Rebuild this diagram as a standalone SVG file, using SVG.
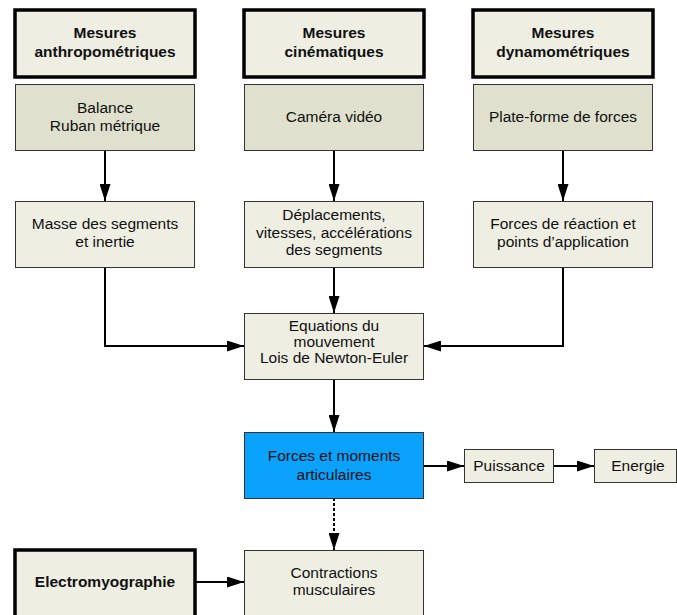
<svg xmlns="http://www.w3.org/2000/svg" width="677" height="615" viewBox="0 0 677 615">
<style>
  .box { fill: #eeeee3; stroke: #333333; stroke-width: 1; }
  .src { fill: #dfe0cd; stroke: #333333; stroke-width: 1; }
  .head { fill: #eeeee3; stroke: #000000; stroke-width: 3.5; }
  .hot { fill: #0aa2fc; stroke: #333333; stroke-width: 1; }
  text { font-family: "Liberation Sans", Arial, sans-serif; font-size: 15.5px; fill: #111111; text-anchor: middle; }
  .b { font-weight: bold; }
  .conn path { fill: none; stroke: #000000; stroke-width: 2; marker-end: url(#arr); }
  .conn path.dash { stroke-dasharray: 3 2; }
</style>
<defs>
  <marker id="arr" viewBox="0 0 17 11" refX="17" refY="5.5" markerWidth="17" markerHeight="11" markerUnits="userSpaceOnUse" orient="auto">
    <path d="M0,0 L17,5.5 L0,11 Z" fill="#000000"/>
  </marker>
</defs>
<rect width="677" height="615" fill="#ffffff"/>

<g id="connectors" class="conn">
  <path d="M105,150 V201"/>
  <path d="M334,150 V201"/>
  <path d="M563,150 V201"/>
  <path d="M105,267 V346 H244"/>
  <path d="M563,267 V346 H424"/>
  <path d="M334,267 V313"/>
  <path d="M334,380 V432"/>
  <path d="M424,466 H464"/>
  <path d="M554,466 H594"/>
  <path class="dash" d="M334,498 V550"/>
  <path d="M195,582 H244"/>
</g>

<g id="n-anthropo">
  <rect class="head" x="15" y="10" width="180" height="67"/>
  <text class="b" x="105" y="38">Mesures</text>
  <text class="b" x="105" y="57">anthropométriques</text>
</g>
<g id="n-cinem">
  <rect class="head" x="244" y="10" width="180" height="67"/>
  <text class="b" x="334" y="38">Mesures</text>
  <text class="b" x="334" y="57">cinématiques</text>
</g>
<g id="n-dynamo">
  <rect class="head" x="473" y="10" width="180" height="67"/>
  <text class="b" x="563" y="38">Mesures</text>
  <text class="b" x="563" y="57">dynamométriques</text>
</g>

<g id="n-balance">
  <rect class="src" x="15.5" y="84.5" width="179" height="66"/>
  <text x="105" y="113">Balance</text>
  <text x="105" y="131">Ruban métrique</text>
</g>
<g id="n-camera">
  <rect class="src" x="244.5" y="84.5" width="179" height="66"/>
  <text x="334" y="122">Caméra vidéo</text>
</g>
<g id="n-plateforme">
  <rect class="src" x="473.5" y="84.5" width="179" height="66"/>
  <text x="563" y="122">Plate-forme de forces</text>
</g>

<g id="n-masse">
  <rect class="box" x="15.5" y="201.5" width="179" height="66"/>
  <text x="105" y="229">Masse des segments</text>
  <text x="105" y="247">et inertie</text>
</g>
<g id="n-deplacements">
  <rect class="box" x="244.5" y="201.5" width="179" height="66"/>
  <text x="334" y="220">Déplacements,</text>
  <text x="334" y="237.5">vitesses, accélérations</text>
  <text x="334" y="255">des segments</text>
</g>
<g id="n-reaction">
  <rect class="box" x="473.5" y="201.5" width="179" height="66"/>
  <text x="563" y="229">Forces de réaction et</text>
  <text x="563" y="247">points d’application</text>
</g>

<g id="n-equations">
  <rect class="box" x="244.5" y="313.5" width="179" height="66"/>
  <text x="334" y="331">Equations du</text>
  <text x="334" y="347">mouvement</text>
  <text x="334" y="363">Lois de Newton-Euler</text>
</g>

<g id="n-forces">
  <rect class="hot" x="244.5" y="432.5" width="179" height="66"/>
  <text x="334" y="461">Forces et moments</text>
  <text x="334" y="480">articulaires</text>
</g>
<g id="n-puissance">
  <rect class="box" x="464.5" y="449.5" width="89" height="33"/>
  <text x="509" y="471">Puissance</text>
</g>
<g id="n-energie">
  <rect class="box" x="594.5" y="449.5" width="82" height="33"/>
  <text x="638" y="471">Energie</text>
</g>

<g id="n-emg">
  <rect class="head" x="15" y="550" width="180" height="70"/>
  <text class="b" x="105" y="587">Electromyographie</text>
</g>
<g id="n-contractions">
  <rect class="box" x="244.5" y="550.5" width="179" height="70"/>
  <text x="334" y="578">Contractions</text>
  <text x="334" y="595">musculaires</text>
</g>
</svg>
